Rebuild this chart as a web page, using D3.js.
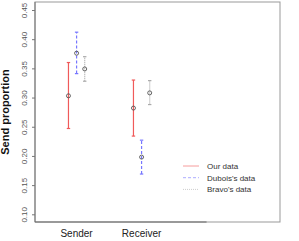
<!DOCTYPE html>
<html>
<head>
<meta charset="utf-8">
<script src="https://cdn.jsdelivr.net/npm/d3@7"></script>
<style>
  body { margin: 0; background: #fff; }
  svg { display: block; font-family: "Liberation Sans", Arial, sans-serif; }
</style>
</head>
<body>
<div class="chart"></div>
<script>
var categories = ["Sender", "Receiver"];
var sources = ["Our data", "Dubois's data", "Bravo's data"];
// mean, lower, upper per category
var ourMean = [0.303, 0.282], ourLow = [0.247, 0.234], ourHigh = [0.360, 0.330];
var duboisMean = [0.376, 0.198], duboisLow = [0.341, 0.169], duboisHigh = [0.412, 0.227];
var bravoMean = [0.349, 0.308], bravoLow = [0.328, 0.288], bravoHigh = [0.370, 0.329];
var yTicks = [0.10, 0.15, 0.20, 0.25, 0.30, 0.35, 0.40, 0.45];

var width = 299, height = 241;
var plotLeft = 35, plotRight = 280, plotTop = 2, plotBottom = 222;

var series = [
    {name: sources[0], mean: ourMean, low: ourLow, high: ourHigh, color: "#f05a5a", dash: null, off: -0.125},
    {name: sources[1], mean: duboisMean, low: duboisLow, high: duboisHigh, color: "#7777ff", dash: "3,2", off: 0},
    {name: sources[2], mean: bravoMean, low: bravoLow, high: bravoHigh, color: "#aaaaaa", dash: "1,1", off: 0.125}
];

var x = d3.scaleLinear().domain([0.36, 4.13]).range([plotLeft, plotRight]);
var y = d3.scaleLinear().domain([0.45, 0.10]).range([10, 214.3]);

var svg = d3.select(".chart").append("svg")
    .attr("width", width)
    .attr("height", height);

// box
svg.append("rect")
    .attr("x", plotLeft).attr("y", plotTop)
    .attr("width", plotRight - plotLeft).attr("height", plotBottom - plotTop)
    .attr("fill", "none").attr("stroke", "#999").attr("stroke-width", 1);

// y axis
var yAxis = d3.axisLeft(y).tickValues(yTicks).tickSize(3).tickFormat(d3.format(".2f"));
var gy = svg.append("g").attr("transform", "translate(" + plotLeft + ",0)").call(yAxis);
gy.select(".domain").attr("stroke", "#777").attr("d", "M0," + plotTop + "V" + plotBottom);
gy.selectAll(".tick line").attr("stroke", "#777");
gy.selectAll(".tick text")
    .attr("transform", "translate(-11,0) rotate(-90)")
    .attr("x", 0).attr("y", 0).attr("dy", "0.35em")
    .attr("text-anchor", "middle")
    .attr("fill", "#555")
    .style("font-size", "8px");

// x axis line + labels
svg.append("line")
    .attr("x1", plotLeft).attr("x2", x(3))
    .attr("y1", plotBottom).attr("y2", plotBottom)
    .attr("stroke", "#666");
svg.selectAll(".xlab").data(categories).enter().append("text")
    .attr("class", "xlab")
    .attr("x", function (d, i) { return x(i + 1); })
    .attr("y", 237)
    .attr("text-anchor", "middle")
    .attr("fill", "#222")
    .style("font-size", "10px")
    .text(function (d) { return d; });

// y title
svg.append("text")
    .attr("transform", "translate(9,112) rotate(-90)")
    .attr("text-anchor", "middle")
    .attr("fill", "#111")
    .style("font-size", "11px")
    .style("font-weight", "bold")
    .text("Send proportion");

// error bars
series.forEach(function (s) {
    var g = svg.append("g");
    categories.forEach(function (c, i) {
        var cx = x(i + 1 + s.off);
        g.append("line")
            .attr("x1", cx).attr("x2", cx)
            .attr("y1", y(s.low[i])).attr("y2", y(s.high[i]))
            .attr("stroke", s.color).attr("stroke-width", 1.2)
            .attr("stroke-dasharray", s.dash);
        [s.low[i], s.high[i]].forEach(function (v) {
            g.append("line")
                .attr("x1", cx - 1.7).attr("x2", cx + 1.7)
                .attr("y1", y(v)).attr("y2", y(v))
                .attr("stroke", s.color).attr("stroke-width", 1.2);
        });
        g.append("circle")
            .attr("cx", cx).attr("cy", y(s.mean[i])).attr("r", 2)
            .attr("fill", "none").attr("stroke", "#555").attr("stroke-width", 0.9);
    });
});

// legend
var leg = svg.append("g");
series.forEach(function (s, i) {
    var ly = 166 + i * 11.7;
    leg.append("line")
        .attr("x1", 183).attr("x2", 199)
        .attr("y1", ly).attr("y2", ly)
        .attr("stroke", s.color).attr("stroke-width", 1)
        .attr("stroke-opacity", 0.6)
        .attr("stroke-dasharray", s.dash);
    leg.append("text")
        .attr("x", 207).attr("y", ly + 3)
        .attr("fill", "#333")
        .style("font-size", "8px")
        .text(s.name);
});
</script>
</body>
</html>
